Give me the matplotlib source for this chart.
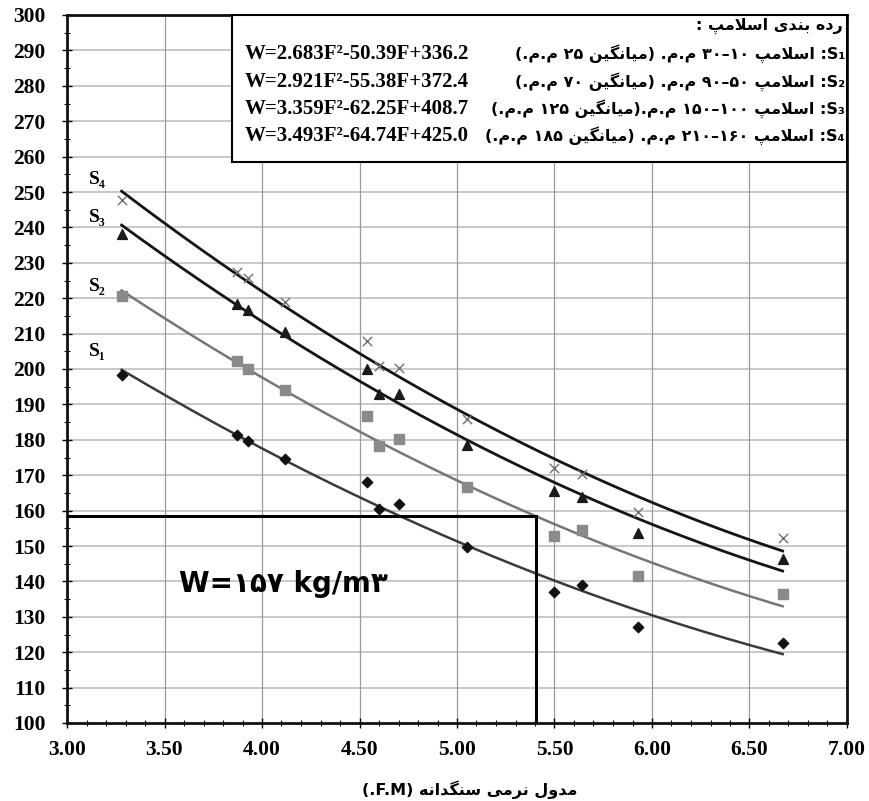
import numpy as np
import matplotlib
matplotlib.use('Agg')
import matplotlib.pyplot as plt
import matplotlib.patches as patches
from matplotlib.ticker import MultipleLocator, FormatStrFormatter

# --- Data ---
fm = [3.28, 3.87, 3.93, 4.12, 4.54, 4.60, 4.70, 5.05, 5.50, 5.64, 5.93, 6.67]
s1_w = [198.4, 181.4, 179.6, 174.7, 168.0, 160.4, 161.8, 149.6, 136.9, 139.0, 127.0, 122.5]
s2_w = [220.7, 202.2, 199.9, 194.2, 186.7, 178.2, 180.3, 166.6, 152.7, 154.5, 141.6, 136.4]
s3_w = [238.2, 218.5, 216.6, 210.4, 200.0, 192.8, 192.8, 178.4, 165.4, 163.8, 153.6, 146.3]
s4_w = [247.8, 227.3, 225.7, 218.9, 208.0, 200.8, 200.3, 185.8, 172.1, 170.2, 159.6, 152.2]

# trend line coefficients (W = aF^2 + bF + c), as printed in the legend box
s1_coef = [2.683, -50.39, 336.2]
s2_coef = [2.921, -55.38, 372.4]
s3_coef = [3.359, -62.25, 408.7]
s4_coef = [3.493, -64.74, 425.0]
fit_range = [3.28, 6.67]

equations = ["W=2.683F²-50.39F+336.2", "W=2.921F²-55.38F+372.4",
             "W=3.359F²-62.25F+408.7", "W=3.493F²-64.74F+425.0"]
classes = ["S₁: اسلامپ ۱۰–۳۰ م.م. (میانگین ۲۵ م.م.)",
           "S₂: اسلامپ ۵۰–۹۰ م.م. (میانگین ۷۰ م.م.)",
           "S₃: اسلامپ ۱۰۰–۱۵۰ م.م.(میانگین ۱۲۵ م.م.)",
           "S₄: اسلامپ ۱۶۰–۲۱۰ م.م. (میانگین ۱۸۵ م.م.)"]
legend_title = "رده بندی اسلامپ :"
x_label = "مدول نرمی سنگدانه (F.M.)"
answer_text = "W=۱۵۷ kg/m۳"
answer_fm = 5.405
answer_w = 158.4

# --- tiny Persian shaping + bidi (matplotlib has none) ---
FORMS = {
    'ا': ('\uFE8D', '\uFE8E', None, None),
    'ب': ('\uFE8F', '\uFE90', '\uFE91', '\uFE92'),
    'د': ('\uFEA9', '\uFEAA', None, None),
    'ر': ('\uFEAD', '\uFEAE', None, None),
    'س': ('\uFEB1', '\uFEB2', '\uFEB3', '\uFEB4'),
    'ل': ('\uFEDD', '\uFEDE', '\uFEDF', '\uFEE0'),
    'م': ('\uFEE1', '\uFEE2', '\uFEE3', '\uFEE4'),
    'ن': ('\uFEE5', '\uFEE6', '\uFEE7', '\uFEE8'),
    'ه': ('\uFEE9', '\uFEEA', '\uFEEB', '\uFEEC'),
    'و': ('\uFEED', '\uFEEE', None, None),
    'پ': ('\uFB56', '\uFB57', '\uFB58', '\uFB59'),
    'گ': ('\uFB92', '\uFB93', '\uFB94', '\uFB95'),
    'ی': ('\uFBFC', '\uFBFD', '\uFBFE', '\uFBFF'),
}
RIGHT_ONLY = set('ادرو')


def shape(s):
    out = []
    i = 0
    while i < len(s):
        c = s[i]
        if c not in FORMS:
            out.append(c)
            i += 1
            continue
        prev = s[i - 1] if i > 0 else ''
        join_prev = prev in FORMS and prev not in RIGHT_ONLY
        if c == 'ل' and i + 1 < len(s) and s[i + 1] == 'ا':
            out.append('\uFEFC' if join_prev else '\uFEFB')
            i += 2
            continue
        nxt = s[i + 1] if i + 1 < len(s) else ''
        join_next = c not in RIGHT_ONLY and nxt in FORMS
        iso, fin, ini, med = FORMS[c]
        if join_prev and join_next:
            out.append(med)
        elif join_prev:
            out.append(fin)
        elif join_next:
            out.append(ini)
        else:
            out.append(iso)
        i += 1
    return ''.join(out)


def ctype(c):
    o = ord(c)
    if 0x6F0 <= o <= 0x6F9:
        return 'AN'
    if 0x600 <= o <= 0x6FF or 0xFB50 <= o <= 0xFDFF or 0xFE70 <= o <= 0xFEFF:
        return 'R'
    if c.isalnum() or 0x2080 <= o <= 0x2089 or c == '²':
        return 'L'
    return 'N'


def rtl(s):
    s = shape(s)
    types = [ctype(c) for c in s]
    strong = ['R' if t == 'AN' else t for t in types]
    res = []
    for k, t in enumerate(types):
        if t != 'N':
            res.append(t)
            continue
        p = next((strong[j] for j in range(k - 1, -1, -1) if strong[j] != 'N'), 'R')
        q = next((strong[j] for j in range(k + 1, len(s)) if strong[j] != 'N'), 'R')
        res.append(p if p == q else 'R')
    mirror = {'(': ')', ')': '('}
    chars = [mirror.get(c, c) if t == 'R' else c for c, t in zip(s, res)]
    out = []
    k = 0
    while k < len(chars):
        if res[k] != 'R':
            j = k
            while j < len(chars) and res[j] != 'R':
                j += 1
            out.extend(reversed(chars[k:j]))
            k = j
        else:
            out.append(chars[k])
            k += 1
    return ''.join(reversed(out))


# --- Figure ---
fig = plt.figure(figsize=(8.7, 8.01), dpi=100)
ax = fig.add_axes([67 / 870, 1 - 723 / 801, (847 - 67) / 870, (723 - 15) / 801])

serif = 'Liberation Serif'

# grid
for yv in range(110, 300, 10):
    ax.axhline(yv, color='#c4c4c4', lw=1.3, zorder=0)
for xv in np.arange(3.5, 7.0, 0.5):
    ax.axvline(xv, color='#9a9a9a', lw=0.9, zorder=0)

# trend lines
F = np.linspace(fit_range[0], fit_range[1], 200)
ax.plot(F, np.polyval(s1_coef, F), color='#3a3a3a', lw=1.8, zorder=3)
ax.plot(F, np.polyval(s2_coef, F), color='#767676', lw=1.8, zorder=3)
ax.plot(F, np.polyval(s3_coef, F), color='#151515', lw=2.0, zorder=3)
ax.plot(F, np.polyval(s4_coef, F), color='#151515', lw=2.0, zorder=3)

# measured points
ax.scatter(fm, s1_w, marker='D', s=28, color='#111111', zorder=4)
ax.scatter(fm, s2_w, marker='s', s=55, color='#8a8a8a', zorder=4)
ax.scatter(fm, s3_w, marker='^', s=50, color='#1a1a1a', zorder=4)
ax.scatter(fm, s4_w, marker='x', s=45, color='#707070', linewidths=1.0, zorder=4)

# curve names
for name, yy in [("S₄", 253.5), ("S₃", 242.7), ("S₂", 223.3), ("S₁", 205.0)]:
    ax.text(3.155, yy, name, fontsize=14, fontweight='bold', family=serif,
            ha='center', va='center', zorder=5)

# reading lines for the answer
ax.plot([3.0, answer_fm], [answer_w, answer_w], color='black', lw=2.2, zorder=5)
ax.plot([answer_fm, answer_fm], [100, answer_w], color='black', lw=2.2, zorder=5)
ax.text(4.11, 139.2, answer_text, fontsize=20, fontweight='bold',
        family='DejaVu Sans', ha='center', va='center', zorder=5)

# legend box
ax.add_patch(patches.Rectangle((3.846, 258.5), 7.0 - 3.846, 41.5, facecolor='white',
                               edgecolor='black', lw=1.5, zorder=6, clip_on=False))
fig.text(843 / 870, 1 - 26 / 801, rtl(legend_title), fontsize=11.5, family='DejaVu Sans',
         fontweight='bold', ha='right', va='center', zorder=7)
rows_y = [54, 82, 109, 136]
for eq, cl, py in zip(equations, classes, rows_y):
    fig.text(245 / 870, 1 - py / 801, eq, fontsize=15, fontweight='bold', family=serif,
             ha='left', va='center', zorder=7)
    fig.text(845 / 870, 1 - py / 801, rtl(cl), fontsize=11.5, family='DejaVu Sans',
             fontweight='bold', ha='right', va='center', zorder=7)

# axes formatting
ax.set_xlim(3.0, 7.0)
ax.set_ylim(100, 300)
ax.xaxis.set_major_locator(MultipleLocator(0.5))
ax.xaxis.set_minor_locator(MultipleLocator(0.1))
ax.yaxis.set_major_locator(MultipleLocator(10))
ax.yaxis.set_minor_locator(MultipleLocator(5))
ax.xaxis.set_major_formatter(FormatStrFormatter('%.2f'))
ax.tick_params(which='major', direction='inout', length=7, width=1.0, labelsize=15.5)
ax.tick_params(axis='y', which='major', pad=12)
ax.tick_params(axis='x', which='major', pad=9)
ax.tick_params(which='minor', direction='inout', length=5, width=0.8)
for lab in ax.get_xticklabels() + ax.get_yticklabels():
    lab.set_fontfamily(serif)
    lab.set_fontweight('bold')
for sp in ax.spines.values():
    sp.set_linewidth(2.0)
    sp.set_color('#111111')

fig.text(470 / 870, 1 - 790 / 801, rtl(x_label), fontsize=11.5, family='DejaVu Sans',
         fontweight='bold', ha='center', va='center')

fig.savefig('out.png', dpi=100, facecolor='white')
